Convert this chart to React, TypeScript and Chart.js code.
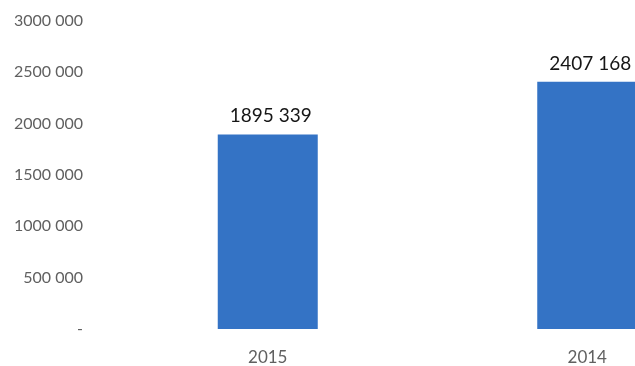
import React, { useEffect, useRef } from "react";
import { Chart, registerables } from "chart.js";

Chart.register(...registerables);

const categories = ["2015", "2014"];
const values = [1895339, 2407168];
const valueLabels = ["1895 339", "2407 168"];
const tickValues = [0, 500000, 1000000, 1500000, 2000000, 2500000, 3000000];
const tickLabels = ["-", "500 000", "1000 000", "1500 000", "2000 000", "2500 000", "3000 000"];

const FONT = "Lato, 'Open Sans', 'DejaVu Sans', sans-serif";

const valueLabelPlugin = {
  id: "valueLabels",
  afterDatasetsDraw(chart: any) {
    const ctx = chart.ctx;
    const meta = chart.getDatasetMeta(0);
    ctx.save();
    ctx.fillStyle = "#161616";
    ctx.font = `19px ${FONT}`;
    ctx.textAlign = "center";
    ctx.textBaseline = "alphabetic";
    meta.data.forEach((bar: any, i: number) => {
      ctx.fillText(valueLabels[i], bar.x + 3, bar.y - 12);
    });
    ctx.restore();
  },
};

export default function App() {
  const ref = useRef<HTMLCanvasElement | null>(null);
  useEffect(() => {
    if (!ref.current) return;
    const chart = new Chart(ref.current, {
      type: "bar",
      data: {
        labels: categories,
        datasets: [
          {
            data: values,
            backgroundColor: "#3473c5",
            borderWidth: 0,
            categoryPercentage: 1,
            barPercentage: 0.313,
          },
        ],
      },
      options: {
        animation: false,
        responsive: false,
        devicePixelRatio: 1,
        layout: { padding: { top: 21, left: 0, right: 0, bottom: 0 } },
        plugins: { legend: { display: false }, tooltip: { enabled: false } },
        scales: {
          x: {
            grid: { display: false, drawTicks: false },
            border: { display: false },
            afterFit(scale: any) {
              scale.height = 37;
            },
            ticks: {
              color: "#606060",
              font: { family: FONT, size: 17 },
              padding: 18,
            },
          },
          y: {
            min: 0,
            max: 3000000,
            grid: { display: false, drawTicks: false },
            border: { display: false },
            afterFit(scale: any) {
              scale.width = 108;
              scale.paddingTop = 0;
              scale.paddingBottom = 0;
            },
            afterBuildTicks(scale: any) {
              scale.ticks = tickValues.map((v) => ({ value: v }));
            },
            ticks: {
              color: "#606060",
              font: { family: FONT, size: 16 },
              padding: 25,
              callback: (v: any) => {
                const idx = tickValues.indexOf(Number(v));
                return idx >= 0 ? tickLabels[idx] : "";
              },
            },
          },
        },
      },
      plugins: [valueLabelPlugin],
    });
    return () => chart.destroy();
  }, []);
  return (
    <div style={{ position: "fixed", left: 0, top: 0, width: 635, height: 366, overflow: "hidden", background: "#fff" }}>
      <canvas ref={ref} width={747} height={366} style={{ display: "block" }} />
    </div>
  );
}
